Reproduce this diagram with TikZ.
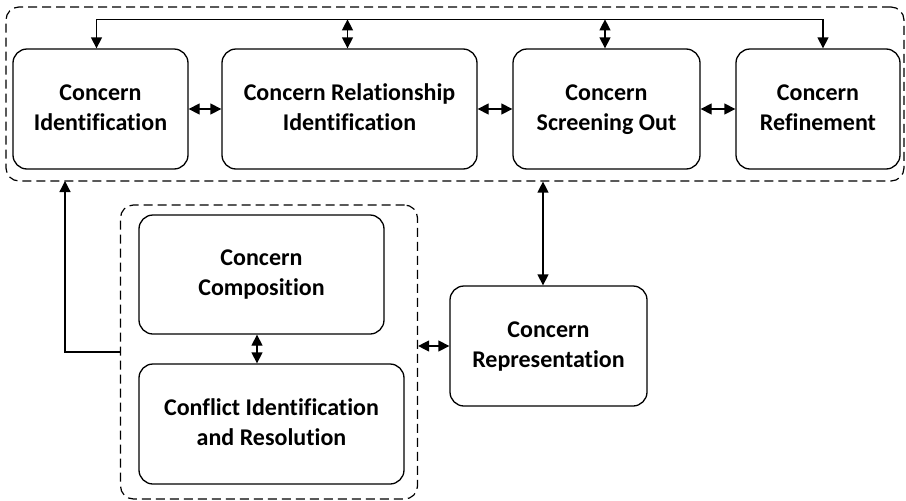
\documentclass[tikz,border=0pt]{standalone}
\usepackage{fontspec}
\setmainfont[Ligatures=NoCommon]{Carlito}
\usetikzlibrary{arrows.meta}

\tikzset{
  stage/.style={draw, line width=1.3pt, rounded corners=14pt, align=center,
    inner sep=0pt, font=\bfseries\fontsize{24}{30}\selectfont},
  group/.style={draw, line width=1.2pt, dash pattern=on 9pt off 5pt, rounded corners=13pt},
  link/.style={line width=1.3pt, {Triangle[length=11pt,width=11pt]}-{Triangle[length=11pt,width=11pt]}},
  onelink/.style={line width=1.3pt, -{Triangle[length=11pt,width=11pt]}},
}

\begin{document}
\begin{tikzpicture}[x=1pt,y=-1pt]
    \useasboundingbox (0,0) rectangle (906,501);
    % dashed groups
    \node[group, minimum width=898pt, minimum height=174pt] (topgrp) at (455,94) {};
    \node[group, minimum width=297pt, minimum height=294pt] (botgrp) at (269,352) {};
    % top row
    \node[stage, minimum width=175pt, minimum height=120pt] (ident) at (100.5,109) {Concern\strut\\Identification\strut};
    \node[stage, minimum width=255pt, minimum height=120pt] (relat) at (349.5,109) {Concern Relationship\strut\\Identification\strut};
    \node[stage, minimum width=187pt, minimum height=120pt] (screen) at (606.5,109) {Concern\strut\\Screening Out\strut};
    \node[stage, minimum width=164pt, minimum height=120pt] (refine) at (818,109) {Concern\strut\\Refinement\strut};
    % lower part
    \node[stage, minimum width=245pt, minimum height=119pt] (compose) at (261.5,274.5) {Concern\strut\\Composition\strut};
    \node[stage, minimum width=265pt, minimum height=120pt] (conflict) at (271.5,424) {Conflict Identification\strut\\and Resolution\strut};
    \node[stage, minimum width=197pt, minimum height=120pt] (repr) at (548.5,346) {Concern\strut\\Representation\strut};
    \coordinate (up) at (65,181); % foot of the left arrow
    % links between stages
    \draw[link] (ident) -- (relat);
    \draw[link] (relat) -- (screen);
    \draw[link] (screen) -- (refine);
    \draw[link] ([xshift=-4pt]ident.north) -- ++(0,-29) -| ([xshift=5pt]refine.north); % bus on top
    \draw[link] ([xshift=-2pt]relat.north) -- ++(0,-29);
    \draw[link] ([xshift=-1.5pt]screen.north) -- ++(0,-29);
    \draw[link] ([xshift=-5.5pt]repr.north) -- ([xshift=-5.5pt]repr.north |- topgrp.south);
    \draw[link] (botgrp.east |- repr.west) -- (repr.west);
    \draw[link] ([xshift=-4.5pt]compose.south) -- ([xshift=-4.5pt]compose.south |- conflict.north);
    \draw[onelink] (botgrp.west) -| (up);
\end{tikzpicture}
\end{document}
